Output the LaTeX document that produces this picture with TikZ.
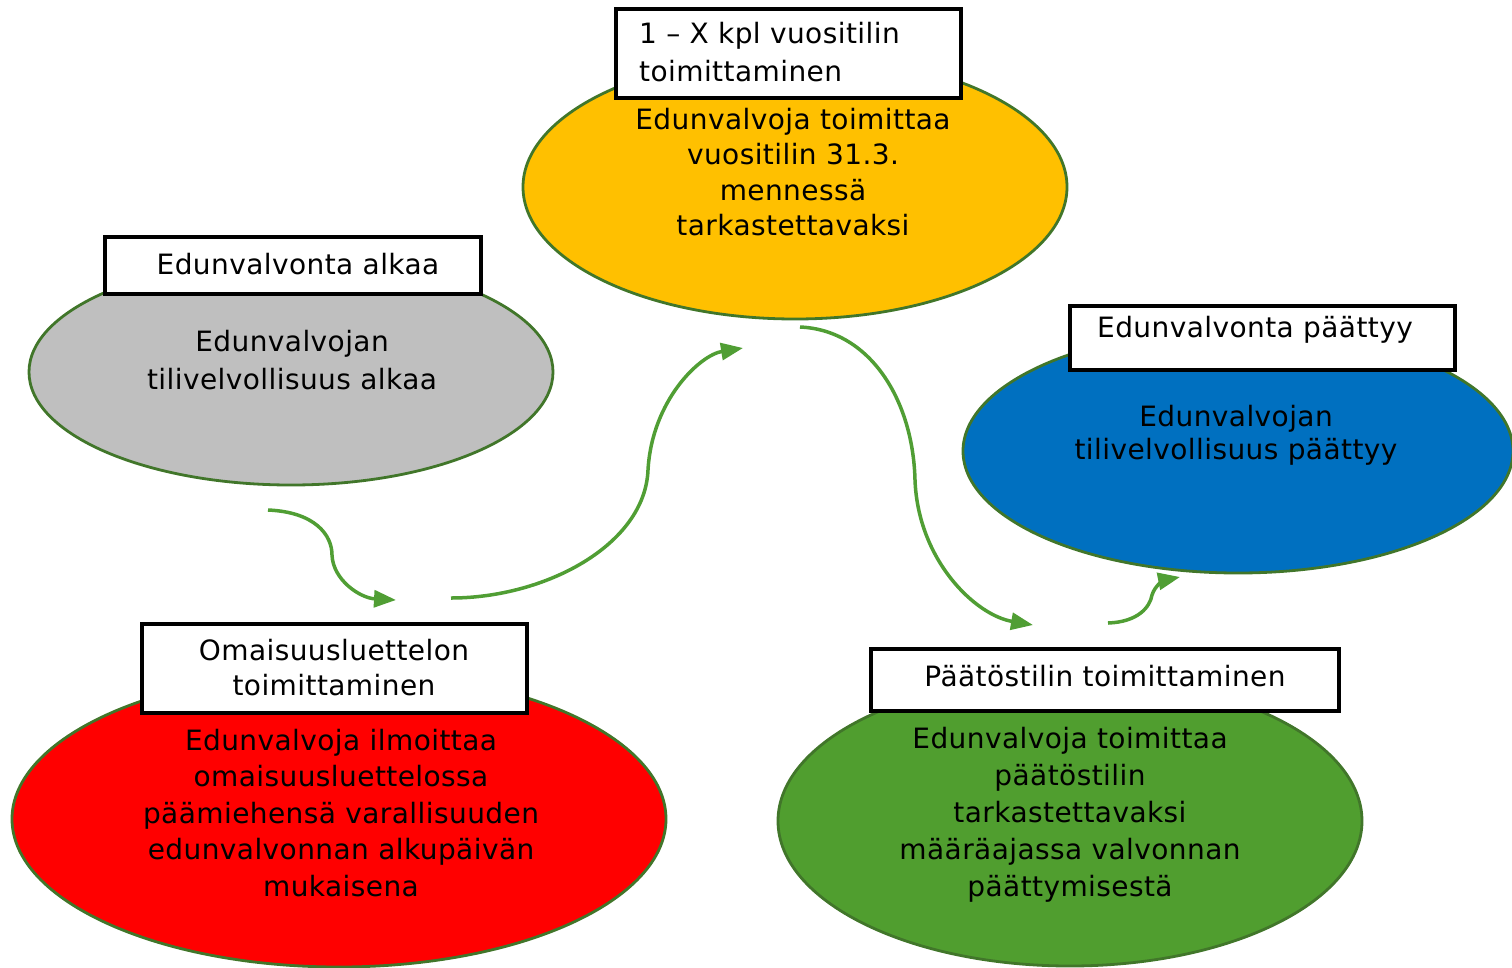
\documentclass[tikz,border=0pt]{standalone}
\usepackage{fontspec}
\setmainfont{DejaVu Sans}[LetterSpace=1.5]
\usetikzlibrary{arrows.meta}
\definecolor{egreen}{HTML}{41762A}
\definecolor{agreen}{HTML}{509E34}
\definecolor{cgrey}{HTML}{BFBFBF}
\definecolor{cyellow}{HTML}{FFC000}
\definecolor{cblue}{HTML}{0070C0}
\definecolor{cred}{HTML}{FF0000}
\definecolor{cgreen}{HTML}{509E2F}
\begin{document}
\begin{tikzpicture}[x=1pt,y=-1pt,
  ell/.style={draw=egreen,line width=2.8pt},
  lbl/.style={draw=black,fill=white,line width=3.2pt},
  txt/.style={align=center,inner sep=0pt,font=\fontsize{28}{36.5}\selectfont},
  flow/.style={draw=agreen,line width=3.5pt,-{Triangle[length=22pt,width=17pt]}}]
\useasboundingbox (0,0) rectangle (1512,967);
\clip (0,0) rectangle (1512,967);
% ellipses
\path[ell,fill=cgrey] (291,372) ellipse [x radius=262,y radius=113];
\path[ell,fill=cyellow] (795,187) ellipse [x radius=272,y radius=132];
\path[ell,fill=cblue] (1238,451) ellipse [x radius=275,y radius=122];
\path[ell,fill=cred] (339,819) ellipse [x radius=327,y radius=148];
\path[ell,fill=cgreen] (1070,821) ellipse [x radius=292,y radius=145];
% label boxes
\path[lbl] (105,237) rectangle (481,294);
\path[lbl] (616,9) rectangle (961,98);
\path[lbl] (1070,306) rectangle (1455,370);
\path[lbl] (142,624) rectangle (527,713);
\path[lbl] (871,649) rectangle (1339,711);
% box texts
\node[txt] (t1) at (298,264) {Edunvalvonta alkaa};
\node[txt,align=left,anchor=west,font=\fontsize{28}{38}\selectfont] (t2) at (639,52) {1 – X kpl vuositilin\\toimittaminen};
\node[txt] (t3) at (1255,330) {Edunvalvonta päättyy};
\node[txt,font=\fontsize{28}{35}\selectfont] (t4) at (334,668) {Omaisuusluettelon\\toimittaminen};
\node[txt] (t5) at (1105,676) {Päätöstilin toimittaminen};
% ellipse texts
\node[txt,font=\fontsize{28}{38}\selectfont] (e1) at (292,360) {Edunvalvojan\\tilivelvollisuus alkaa};
\node[txt,font=\fontsize{28}{35.5}\selectfont] (e2) at (793,172) {Edunvalvoja toimittaa\\vuositilin 31.3.\\mennessä\\tarkastettavaksi};
\node[txt,font=\fontsize{28}{33}\selectfont] (e3) at (1236,435) {Edunvalvojan\\tilivelvollisuus päättyy};
\node[txt] (e4) at (341,813) {Edunvalvoja ilmoittaa\\omaisuusluettelossa\\päämiehensä varallisuuden\\edunvalvonnan alkupäivän\\mukaisena};
\node[txt,font=\fontsize{28}{37}\selectfont] (e5) at (1070,815) {Edunvalvoja toimittaa\\päätöstilin\\tarkastettavaksi\\määräajassa valvonnan\\päättymisestä};
% arrow end points
\coordinate (a1s) at (268,510); \coordinate (a1e) at (396,600);
\coordinate (a2s) at (451,598); \coordinate (a2e) at (743,348);
\coordinate (a3s) at (800,327); \coordinate (a3e) at (1033,625);
\coordinate (a4s) at (1108,623); \coordinate (a4e) at (1180,577);
\draw[flow] (a1s) .. controls (315,512) and (332,535) .. (332,555) .. controls (333,580) and (360,598) .. (a1e);
\draw[flow] (a2s) .. controls (545,598) and (645,545) .. (648,470) .. controls (652,400) and (700,355) .. (a2e);
\draw[flow] (a3s) .. controls (870,330) and (913,400) .. (915,480) .. controls (918,560) and (975,615) .. (a3e);
\draw[flow] (a4s) .. controls (1138,622) and (1150,607) .. (1152,595) .. controls (1155,585) and (1165,580) .. (a4e);
\end{tikzpicture}
\end{document}
